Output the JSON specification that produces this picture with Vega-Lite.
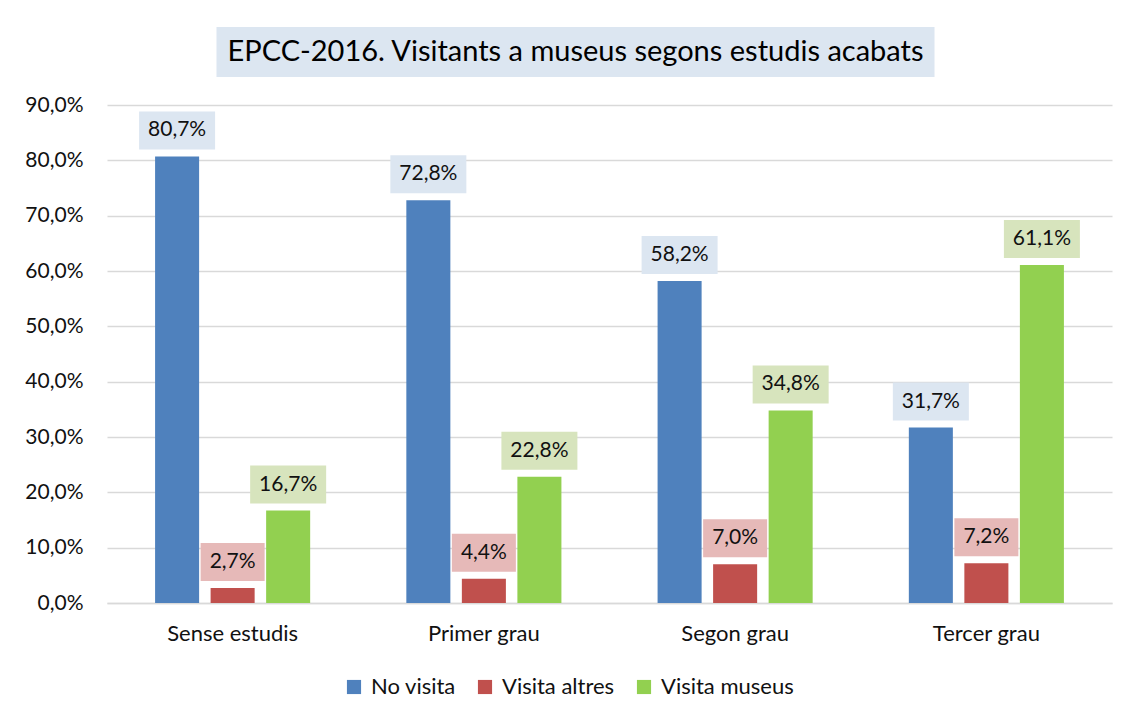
{
  "$schema": "https://vega.github.io/schema/vega-lite/v6.json",
  "padding": {"left": 24, "top": 27, "right": 12, "bottom": 5},
  "background": "white",
  "config": {
    "locale": {"number": {"decimal": ",", "thousands": ".", "grouping": [3], "currency": ["", " €"]}},
    "font": "Lato",
    "view": {"stroke": null},
    "concat": {"spacing": 17},
    "legend": {"layout": {"bottom": {"anchor": "middle"}}}
  },
  "datasets": {
    "main": [
      {"cat": "Sense estudis", "serie": "No visita", "v": 0.807},
      {"cat": "Sense estudis", "serie": "Visita altres", "v": 0.027},
      {"cat": "Sense estudis", "serie": "Visita museus", "v": 0.167},
      {"cat": "Primer grau", "serie": "No visita", "v": 0.728},
      {"cat": "Primer grau", "serie": "Visita altres", "v": 0.044},
      {"cat": "Primer grau", "serie": "Visita museus", "v": 0.228},
      {"cat": "Segon grau", "serie": "No visita", "v": 0.582},
      {"cat": "Segon grau", "serie": "Visita altres", "v": 0.070},
      {"cat": "Segon grau", "serie": "Visita museus", "v": 0.348},
      {"cat": "Tercer grau", "serie": "No visita", "v": 0.317},
      {"cat": "Tercer grau", "serie": "Visita altres", "v": 0.072},
      {"cat": "Tercer grau", "serie": "Visita museus", "v": 0.611}
    ]
  },
  "center": true,
  "vconcat": [
    {
      "width": 718,
      "height": 50,
      "view": {"fill": "#DCE6F1", "stroke": null},
      "data": {"values": [{"t": "EPCC-2016. Visitants a museus segons estudis acabats"}]},
      "mark": {"type": "text", "fontSize": 29, "color": "#000000", "baseline": "middle", "align": "center"},
      "encoding": {
        "text": {"field": "t"},
        "y": {"field": "t", "type": "nominal", "axis": {"orient": "right", "labels": false, "ticks": false, "domain": false, "grid": false, "title": null, "minExtent": 68, "maxExtent": 68}}
      }
    },
    {
      "width": 1005,
      "height": 498,
      "data": {"name": "main"},
      "encoding": {
        "x": {
          "field": "cat", "type": "nominal", "sort": null, "title": null,
          "scale": {"paddingInner": 0.337, "paddingOuter": 0.1685},
          "axis": {"labelAngle": 0, "labelFontSize": 22, "labelColor": "#111111", "ticks": false, "domain": true, "domainColor": "#D9D9D9", "domainWidth": 1.5, "labelPadding": 20}
        },
        "xOffset": {
          "field": "serie", "type": "nominal", "sort": null,
          "scale": {"paddingInner": 0.207, "paddingOuter": 0.1035}
        },
        "y": {
          "field": "v", "type": "quantitative", "title": null,
          "scale": {"domain": [0, 0.9], "nice": false},
          "axis": {"format": ".1%", "values": [0, 0.1, 0.2, 0.3, 0.4, 0.5, 0.6, 0.7, 0.8, 0.9], "labelFontSize": 21, "labelColor": "#111111", "ticks": false, "domain": false, "gridColor": "#D9D9D9", "gridWidth": 1.5, "labelPadding": 24}
        }
      },
      "layer": [
        {
          "mark": {"type": "bar"},
          "encoding": {
            "color": {
              "field": "serie", "type": "nominal", "sort": null, "title": null,
              "scale": {"domain": ["No visita", "Visita altres", "Visita museus"], "range": ["#4F81BD", "#C0504D", "#92D050"]},
              "legend": {"orient": "bottom", "direction": "horizontal", "symbolType": "square", "symbolSize": 200, "symbolStrokeWidth": 0, "labelFontSize": 22, "labelColor": "#111111", "columnPadding": 18, "offset": 32, "labelOffset": 6}
            }
          }
        },
        {
          "transform": [{"filter": "datum.serie !== 'Visita altres'"}],
          "mark": {"type": "bar", "width": 76, "yOffset": -7, "y2Offset": -45},
          "encoding": {
            "y2": {"field": "v"},
            "fill": {
              "field": "serie", "type": "nominal", "legend": null,
              "scale": {"domain": ["No visita", "Visita altres", "Visita museus"], "range": ["#DCE6F1", "#E6B9B8", "#D7E4BD"]}
            }
          }
        },
        {
          "transform": [{"filter": "datum.serie === 'Visita altres'"}],
          "mark": {"type": "bar", "width": 64, "yOffset": -7, "y2Offset": -45},
          "encoding": {
            "y2": {"field": "v"},
            "fill": {
              "field": "serie", "type": "nominal", "legend": null,
              "scale": {"domain": ["No visita", "Visita altres", "Visita museus"], "range": ["#DCE6F1", "#E6B9B8", "#D7E4BD"]}
            }
          }
        },
        {
          "mark": {"type": "text", "fontSize": 21, "color": "#111111", "baseline": "middle", "dy": -26},
          "encoding": {"text": {"field": "v", "type": "quantitative", "format": ".1%"}}
        }
      ]
    }
  ]
}
